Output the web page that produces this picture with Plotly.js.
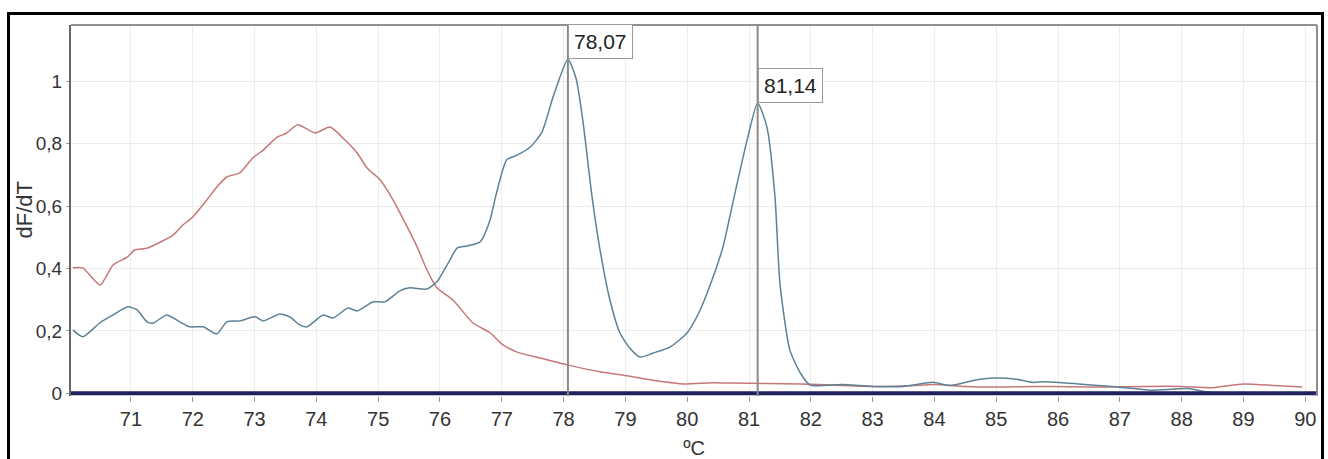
<!DOCTYPE html>
<html>
<head>
<meta charset="utf-8">
<script src="https://cdn.plot.ly/plotly-3.0.1.min.js"></script>
<style>
  html, body { margin: 0; padding: 0; background: #fff; overflow: hidden; }
  #wrap { position: relative; width: 1328px; height: 459px; }
  #chart { position: absolute; left: 0; top: 0; width: 1328px; height: 459px; }
  #frame {
    position: absolute; left: 7px; top: 12px; width: 1317px; height: 470px;
    box-sizing: border-box; border: 3px solid #000; pointer-events: none;
  }
</style>
</head>
<body>
<div id="wrap">
  <div id="chart"></div>
  <div id="frame"></div>
</div>
<script>
// Melt curve derivative: sample A (red)
const redTemp = [70.06, 70.22, 70.50, 70.71, 70.94, 71.06, 71.26, 71.47, 71.68, 71.84, 72.00,
  72.23, 72.39, 72.55, 72.76, 72.97, 73.14, 73.36, 73.52, 73.70, 73.98, 74.22, 74.43, 74.66,
  74.82, 75.03, 75.24, 75.47, 75.63, 75.79, 75.95, 76.21, 76.53, 76.81, 77.02, 77.25, 77.62,
  78.06, 78.59, 79.12, 79.40, 79.93, 80.40, 80.74, 81.30, 81.83, 82.40, 83.00, 83.60, 84.00,
  84.50, 85.00, 85.60, 86.20, 86.80, 87.40, 88.00, 88.50, 89.00, 89.50, 89.95];
const redDfdt = [0.402, 0.402, 0.347, 0.411, 0.436, 0.459, 0.465, 0.484, 0.507, 0.539, 0.565,
  0.620, 0.661, 0.693, 0.706, 0.754, 0.779, 0.820, 0.834, 0.860, 0.834, 0.853, 0.818, 0.770,
  0.722, 0.684, 0.620, 0.533, 0.469, 0.395, 0.338, 0.299, 0.226, 0.194, 0.155, 0.132, 0.113,
  0.091, 0.069, 0.053, 0.043, 0.030, 0.034, 0.033, 0.031, 0.030, 0.026, 0.022, 0.024, 0.028,
  0.022, 0.020, 0.022, 0.021, 0.020, 0.022, 0.022, 0.018, 0.030, 0.025, 0.020];

// Melt curve derivative: sample B (blue)
const blueTemp = [70.06, 70.22, 70.50, 70.71, 70.95, 71.10, 71.26, 71.36, 71.58, 71.79, 71.95,
  72.17, 72.39, 72.55, 72.76, 73.01, 73.14, 73.41, 73.57, 73.73, 73.85, 74.11, 74.27, 74.51,
  74.66, 74.92, 75.11, 75.35, 75.51, 75.79, 75.95, 76.16, 76.28, 76.44, 76.65, 76.81, 76.90,
  77.08, 77.25, 77.46, 77.65, 77.83, 78.07, 78.20, 78.31, 78.46, 78.59, 78.75, 78.91, 79.07,
  79.24, 79.45, 79.72, 80.00, 80.21, 80.42, 80.58, 80.76, 80.97, 81.14, 81.29, 81.42, 81.50,
  81.66, 81.83, 81.99, 82.50, 83.00, 83.50, 83.98, 84.25, 84.65, 84.95, 85.30, 85.58, 85.80,
  86.33, 86.97, 87.50, 88.10, 88.44, 89.00, 90.00];
const blueDfdt = [0.203, 0.181, 0.226, 0.251, 0.277, 0.267, 0.229, 0.225, 0.251, 0.229, 0.213,
  0.213, 0.190, 0.229, 0.232, 0.245, 0.232, 0.254, 0.245, 0.219, 0.213, 0.251, 0.241, 0.273,
  0.264, 0.293, 0.293, 0.328, 0.338, 0.334, 0.357, 0.427, 0.466, 0.472, 0.485, 0.555, 0.630,
  0.748, 0.763, 0.789, 0.837, 0.949, 1.070, 1.010, 0.876, 0.630, 0.459, 0.299, 0.194, 0.145,
  0.116, 0.129, 0.148, 0.194, 0.267, 0.373, 0.470, 0.630, 0.812, 0.930, 0.853, 0.630, 0.353,
  0.139, 0.065, 0.026, 0.028, 0.022, 0.022, 0.035, 0.025, 0.042, 0.049, 0.046, 0.035, 0.037,
  0.030, 0.020, 0.010, 0.015, 0.003, 0.002, 0.000];

// No-template control, flat along zero
const ntcTemp = [70.0, 75.0, 80.0, 85.0, 90.2];
const ntcDfdt = [0, 0, 0, 0, 0];

// Melting peaks marked on the sample B curve
const peakTemps = [78.07, 81.14];
const peakValues = [1.07, 0.93];
const peakLabels = peakTemps.map(t => t.toFixed(2).replace('.', ','));

const xTicks = [71, 72, 73, 74, 75, 76, 77, 78, 79, 80, 81, 82, 83, 84, 85, 86, 87, 88, 89, 90];
const yTicks = [0, 0.2, 0.4, 0.6, 0.8, 1];

const FONT = '"Liberation Sans", Arial, sans-serif';

const traces = [
  {
    x: redTemp, y: redDfdt, type: 'scatter', mode: 'lines', name: 'A',
    line: { color: '#c77777', width: 1.5, shape: 'spline', smoothing: 0.6 }
  },
  {
    x: blueTemp, y: blueDfdt, type: 'scatter', mode: 'lines', name: 'B',
    line: { color: '#5d8196', width: 1.5, shape: 'spline', smoothing: 0.6 }
  },
  {
    x: ntcTemp, y: ntcDfdt, type: 'scatter', mode: 'lines', name: 'NTC',
    line: { color: '#1f2160', width: 4 }
  }
];

const shapes = peakTemps.map(t => ({
  type: 'line', xref: 'x', yref: 'paper', x0: t, x1: t, y0: 0, y1: 1,
  line: { color: '#8a8a8a', width: 2 }, layer: 'above'
}));
// top and right edges of the plotting area
shapes.push({ type: 'line', xref: 'paper', yref: 'paper', x0: 0, x1: 1, y0: 1, y1: 1,
  line: { color: '#8f8f8f', width: 2 } });
shapes.push({ type: 'line', xref: 'paper', yref: 'paper', x0: 1, x1: 1, y0: 0, y1: 1,
  line: { color: '#8f8f8f', width: 2 } });

const annotations = peakTemps.map((t, i) => ({
  x: t, y: peakValues[i], xref: 'x', yref: 'y', text: peakLabels[i],
  showarrow: false, xanchor: 'left', yanchor: 'bottom',
  font: { family: FONT, size: 21, color: '#222' },
  bgcolor: '#ffffff', bordercolor: '#9a9a9a', borderwidth: 1, borderpad: 5
}));

// vertical axis title, placed left of the tick labels
annotations.push({
  xref: 'paper', yref: 'paper', x: -47 / 1246, y: 0.5, xanchor: 'center', yanchor: 'middle',
  text: 'dF/dT', textangle: -90, showarrow: false,
  font: { family: FONT, size: 22, color: '#333' }
});

const layout = {
  width: 1328, height: 459,
  margin: { l: 71, r: 11, t: 25, b: 63 },
  paper_bgcolor: '#ffffff', plot_bgcolor: '#ffffff',
  showlegend: false,
  separators: ',.',
  xaxis: {
    range: [70.03, 90.19], tickvals: xTicks, ticks: 'outside', ticklen: 5, tickcolor: '#999',
    showgrid: true, gridcolor: '#ececec', gridwidth: 1, zeroline: false, showline: false,
    tickfont: { family: FONT, size: 20, color: '#333' },
    title: { text: 'ºC', font: { family: FONT, size: 20, color: '#333' }, standoff: 12 }
  },
  yaxis: {
    range: [-0.0087, 1.18], tickvals: yTicks, ticks: 'outside', ticklen: 3, tickcolor: '#999',
    showgrid: true, gridcolor: '#ececec', gridwidth: 1, zeroline: false,
    showline: true, linecolor: '#666', linewidth: 2,
    tickfont: { family: FONT, size: 19, color: '#333' }
  },
  shapes: shapes,
  annotations: annotations
};

Plotly.newPlot('chart', traces, layout, { displayModeBar: false, staticPlot: true });
</script>
</body>
</html>
